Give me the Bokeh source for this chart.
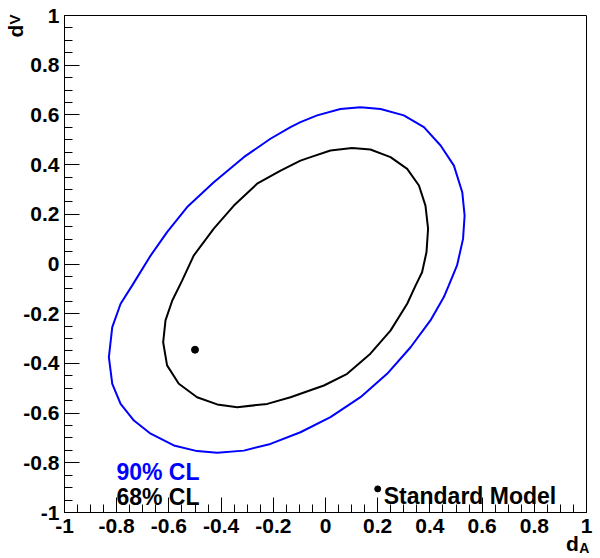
import math
from bokeh.plotting import figure
from bokeh.models import Range1d, FixedTicker, CustomJSTickFormatter, Label, LinearAxis
from bokeh.embed import file_html
from bokeh.resources import INLINE

# ---- data ----
cl90_x = [0.134, 0.211, 0.300, 0.377, 0.441, 0.492, 0.524, 0.533, 0.527, 0.504, 0.472,
          0.453, 0.402, 0.326, 0.236, 0.134, 0.019, -0.096, -0.211, -0.313, -0.415,
          -0.492, -0.581, -0.670, -0.734, -0.785, -0.817, -0.830, -0.817, -0.785, -0.741,
          -0.670, -0.607, -0.530, -0.428, -0.313, -0.211, -0.134, -0.096, -0.032, 0.057, 0.134]
cl90_y = [0.631, 0.624, 0.598, 0.551, 0.477, 0.396, 0.289, 0.195, 0.101, -0.006, -0.087,
          -0.134, -0.227, -0.335, -0.442, -0.536, -0.616, -0.677, -0.724, -0.751, -0.760,
          -0.753, -0.730, -0.683, -0.630, -0.563, -0.482, -0.375, -0.254, -0.160, -0.087,
          0.034, 0.128, 0.229, 0.329, 0.430, 0.504, 0.551, 0.571, 0.598, 0.624, 0.631]

cl68_x = [0.102, 0.172, 0.249, 0.313, 0.358, 0.383, 0.393, 0.387, 0.370, 0.345, 0.313,
          0.249, 0.172, 0.083, -0.006, -0.096, -0.134, -0.223, -0.338, -0.415, -0.492,
          -0.562, -0.607, -0.622, -0.613, -0.587, -0.549, -0.505, -0.428, -0.351, -0.262,
          -0.172, -0.096, -0.057, 0.019, 0.102]
cl68_y = [0.467, 0.461, 0.430, 0.383, 0.316, 0.235, 0.142, 0.048, -0.033, -0.087, -0.160,
          -0.268, -0.361, -0.442, -0.489, -0.522, -0.536, -0.563, -0.576, -0.565, -0.536,
          -0.482, -0.408, -0.315, -0.227, -0.147, -0.066, 0.034, 0.142, 0.235, 0.323,
          0.376, 0.416, 0.430, 0.457, 0.467]

sm_x = [-0.5]
sm_y = [-0.345]

tick_vals = [-1.0, -0.8, -0.6, -0.4, -0.2, 0.0, 0.2, 0.4, 0.6, 0.8, 1.0]
tick_labels = ["-1", "-0.8", "-0.6", "-0.4", "-0.2", "0", "0.2", "0.4", "0.6", "0.8", "1"]
minor_vals = [round(-1 + 0.05 * i, 2) for i in range(41)]

legend_90 = "90% CL"
legend_68 = "68% CL"
legend_sm = "Standard Model"

FONT = "Liberation Sans"

# frame spans the whole canvas; the visible ROOT-style box is drawn by axes at fixed locations
W, H = 596, 556
p = figure(width=W, height=H, output_backend="svg", toolbar_location=None,
           x_range=Range1d(-1 - 64 / 261, 1 + 10 / 261),
           y_range=Range1d(-1 - 44 / 248.5, 1 + 15 / 248.5),
           min_border=0, min_border_left=0, min_border_right=0,
           min_border_top=0, min_border_bottom=0)
p.grid.visible = False
p.outline_line_color = None
p.background_fill_color = "white"
p.border_fill_color = "white"

fmt = CustomJSTickFormatter(args=dict(vals=tick_vals, labs=tick_labels), code="""
let best = 0, bd = 1e9;
for (let i = 0; i < vals.length; i++) { const d = Math.abs(vals[i] - tick); if (d < bd) { bd = d; best = i; } }
return labs[best];
""")

for ax in (p.xaxis[0], p.yaxis[0]):
    ax.fixed_location = -1
    ax.bounds = (-1, 1)
    ax.ticker = FixedTicker(ticks=tick_vals, minor_ticks=minor_vals)
    ax.formatter = fmt
    ax.axis_line_color = "black"
    ax.axis_line_width = 1
    ax.major_tick_in = 15
    ax.major_tick_out = 0
    ax.minor_tick_in = 8
    ax.minor_tick_out = 0
    ax.major_tick_line_color = "black"
    ax.minor_tick_line_color = "black"
    ax.major_label_text_font = FONT
    ax.major_label_text_font_style = "bold"
    ax.major_label_text_font_size = "21px"
    ax.major_label_text_color = "black"
p.xaxis[0].major_label_standoff = 6
p.yaxis[0].major_label_standoff = 5

# top and right edges of the box
for place in ("above", "right"):
    edge = LinearAxis(fixed_location=1, bounds=(-1, 1), ticker=FixedTicker(ticks=[]),
                      major_tick_in=0, major_tick_out=0, minor_tick_in=0, minor_tick_out=0,
                      major_label_text_font_size="0px", axis_line_color="black",
                      axis_line_width=1)
    p.add_layout(edge, place)

p.line(cl90_x, cl90_y, line_color="#0000ff", line_width=2)
p.line(cl68_x, cl68_y, line_color="black", line_width=2)
p.scatter(sm_x, sm_y, size=7, color="black")

def lab(x, y, text, color="black", size="23px", angle=0.0):
    p.add_layout(Label(x=x, y=y, text=text, text_color=color, text_font=FONT,
                       text_font_style="bold", text_font_size=size, angle=angle,
                       text_align="left", text_baseline="alphabetic"))

lab(-0.801, -0.838, legend_90, color="#0000ff")
lab(-0.801, -0.938, legend_68)
p.scatter([0.2], [-0.905], size=6, color="black")
lab(0.223, -0.932, legend_sm)

# axis titles
lab(0.921, -1.125, "d", size="21px")
lab(0.972, -1.141, "A", size="14px")
lab(-1.189, 0.911, "d", size="21px", angle=math.pi / 2)
lab(-1.190, 0.964, "V", size="15px", angle=math.pi / 2)

open("out.html", "w").write(file_html(p, INLINE))
